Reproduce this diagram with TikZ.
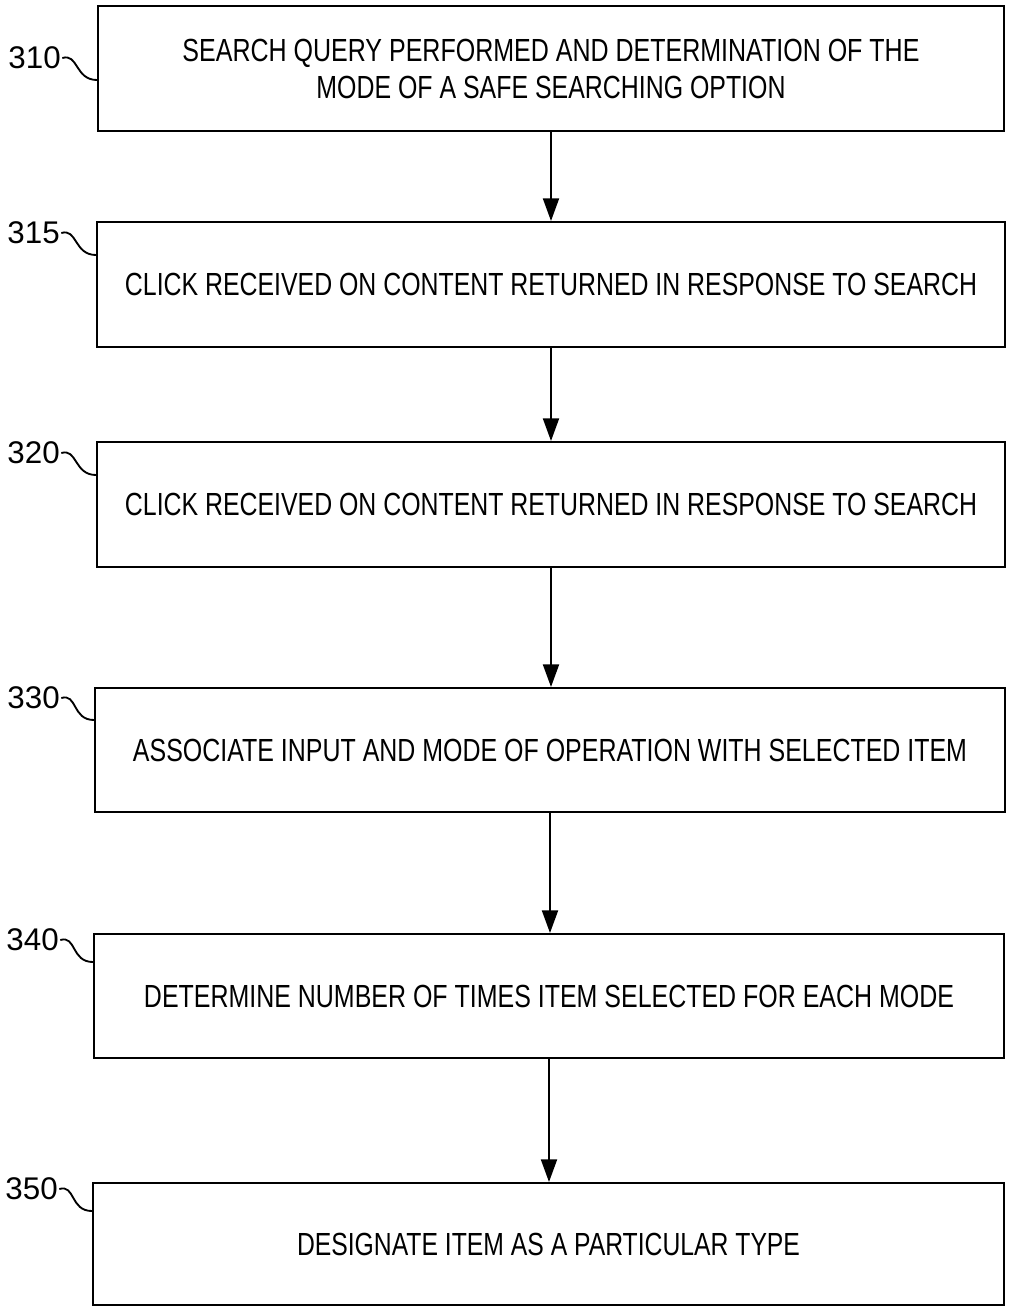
\documentclass[tikz,border=0pt]{standalone}
\usepackage{fontspec}
\setmainfont{Liberation Sans}
\usepackage{graphicx}
\usetikzlibrary{arrows.meta}
\newsavebox{\fitbx}
\newcommand{\fitw}[2]{\sbox{\fitbx}{#2}\resizebox{#1}{\ht\fitbx}{\usebox{\fitbx}}}
\begin{document}
\begin{tikzpicture}[x=0.75pt,y=-0.75pt,
  box/.style={draw, line width=1.5pt, inner sep=0pt, align=center,
    font=\fontsize{24}{27.75}\selectfont},
  reflabel/.style={anchor=east, inner sep=0pt, font=\fontsize{23.5}{27}\selectfont},
  squig/.style={line width=1.4pt},
  flow/.style={line width=1.5pt, -{Triangle[length=17pt,width=12pt]}}]
\useasboundingbox (0,0) rectangle (1009,1307);

\node[box, minimum width=679.5pt, minimum height=93.75pt] (b310) at (551,68.5)
  {\fitw{552.75pt}{SEARCH QUERY PERFORMED AND DETERMINATION OF THE}\\
   \fitw{351.75pt}{MODE OF A SAFE SEARCHING OPTION}};
\node[box, minimum width=681pt, minimum height=93.75pt] (b315) at (551,284.5)
  {\fitw{639pt}{CLICK RECEIVED ON CONTENT RETURNED IN RESPONSE TO SEARCH}};
\node[box, minimum width=681pt, minimum height=93.75pt] (b320) at (551,504.5)
  {\fitw{639pt}{CLICK RECEIVED ON CONTENT RETURNED IN RESPONSE TO SEARCH}};
\node[box, minimum width=682.5pt, minimum height=93pt] (b330) at (550,750)
  {\fitw{625.5pt}{ASSOCIATE INPUT AND MODE OF OPERATION WITH SELECTED ITEM}};
\node[box, minimum width=682.5pt, minimum height=93pt] (b340) at (549,996)
  {\fitw{607.5pt}{DETERMINE NUMBER OF TIMES ITEM SELECTED FOR EACH MODE}};
\node[box, minimum width=683.25pt, minimum height=91.5pt] (b350) at (548.5,1244)
  {\fitw{377.25pt}{DESIGNATE ITEM AS A PARTICULAR TYPE}};

\node[reflabel] (l310) at (61,58) {310};
\node[reflabel] (l315) at (60,233) {315};
\node[reflabel] (l320) at (60,453) {320};
\node[reflabel] (l330) at (60,698) {330};
\node[reflabel] (l340) at (59,940) {340};
\node[reflabel] (l350) at (58,1189) {350};

\foreach \n in {310,315,320,330,340,350}{
  \path (b\n.west |- l\n.east) ++(0,22) coordinate (e\n);
  \draw[squig] ([xshift=1pt]l\n.east) .. controls +(16,-5) and +(-22,0) .. (e\n);
}

\draw[flow] (b310.south) -- (b310.south |- b315.north);
\draw[flow] (b315.south) -- (b315.south |- b320.north);
\draw[flow] (b320.south) -- (b320.south |- b330.north);
\draw[flow] (b330.south) -- (b330.south |- b340.north);
\draw[flow] (b340.south) -- (b340.south |- b350.north);
\end{tikzpicture}
\end{document}
